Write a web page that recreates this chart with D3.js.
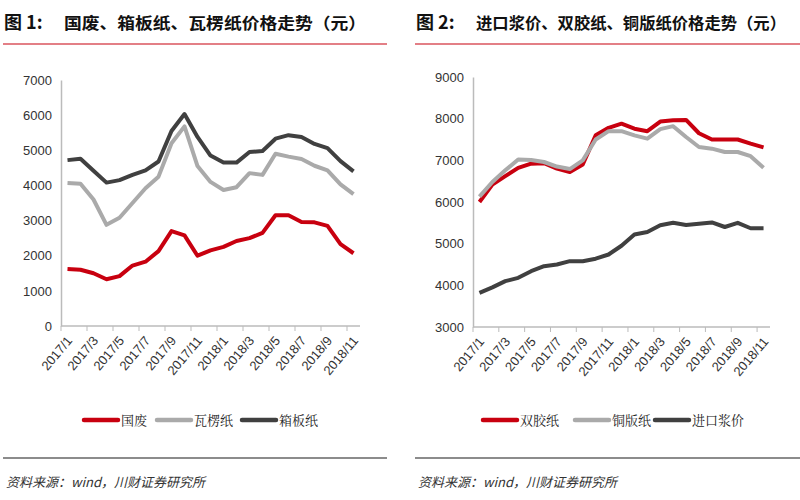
<!DOCTYPE html>
<html><head><meta charset="utf-8">
<script src="https://cdn.jsdelivr.net/npm/d3@7"></script>
<style>body{margin:0;background:#fff}svg{display:block}</style>
</head><body><svg id="c" width="800" height="500"></svg>
<script>
const months=["2017/1","2017/2","2017/3","2017/4","2017/5","2017/6","2017/7","2017/8","2017/9","2017/10","2017/11","2017/12","2018/1","2018/2","2018/3","2018/4","2018/5","2018/6","2018/7","2018/8","2018/9","2018/10","2018/11"];
const tickLabels=["2017/1","2017/3","2017/5","2017/7","2017/9","2017/11","2018/1","2018/3","2018/5","2018/7","2018/9","2018/11"];
const guofei=[1620,1600,1500,1330,1420,1720,1830,2130,2700,2580,2000,2150,2250,2420,2500,2650,3150,3150,2960,2950,2850,2330,2070];
const walengzhi=[4070,4050,3600,2880,3080,3500,3920,4250,5200,5680,4550,4100,3870,3950,4350,4300,4900,4820,4750,4560,4430,4030,3750];
const xiangbanzhi=[4720,4760,4420,4080,4150,4300,4430,4680,5550,6030,5380,4850,4650,4650,4950,4980,5330,5430,5380,5180,5060,4690,4400];
const shuangjiao=[6000,6420,6620,6820,6920,6930,6800,6720,6900,7600,7780,7880,7760,7700,7930,7960,7970,7650,7500,7500,7500,7400,7310];
const tongban=[6130,6480,6760,7020,7010,6960,6850,6790,7000,7500,7700,7700,7600,7520,7750,7820,7560,7320,7280,7200,7200,7100,6820];
const jinkoujiang=[3820,3950,4100,4180,4340,4460,4500,4580,4580,4640,4740,4950,5220,5280,5440,5500,5450,5480,5510,5400,5500,5370,5370];
const yTicks1=[0,1000,2000,3000,4000,5000,6000,7000];
const yTicks2=[3000,4000,5000,6000,7000,8000,9000];
const RED="#c8000f",GREY="#aaaaaa",DARK="#404040";
const svg=d3.select("#c");
const cjk="'Noto Sans CJK SC',sans-serif";
const narrow="'Liberation Sans Narrow','Liberation Sans',sans-serif";

function panel(o){
  const g=svg.append("g");
  g.append("text").attr("x",o.tx).attr("y",29).attr("font-family",cjk).attr("font-weight","bold").attr("font-size",18).attr("fill","#111").text(o.fig);
  g.append("text").attr("x",o.tx+60).attr("y",29).attr("font-family",cjk).attr("font-weight","bold").attr("font-size",16.2).attr("fill","#111")
    .attr("textLength",o.tlen).attr("lengthAdjust","spacingAndGlyphs").attr("transform",`translate(0,0)`).text(o.title);
  g.append("line").attr("x1",o.lx1).attr("x2",o.lx2).attr("y1",44).attr("y2",44).attr("stroke",RED).attr("stroke-width",1.2);
  const x=d3.scaleBand().domain(months).range([o.x0,o.x1]);
  const y=d3.scaleLinear().domain(o.ydom).range([o.yb,o.yt]);
  const ya=g.append("g").attr("transform",`translate(${o.x0},0)`).call(d3.axisLeft(y).tickValues(o.yTicks).tickFormat(d3.format("d")).tickSize(0).tickPadding(9));
  ya.select(".domain").attr("stroke","#bbb").attr("stroke-width",1.5);
  ya.selectAll("text").attr("font-family",narrow).attr("font-size",13).attr("fill","#333");
  const xa=g.append("g").attr("transform",`translate(0,${o.yb})`);
  xa.append("line").attr("x1",o.x0).attr("x2",o.x1).attr("stroke","#bbb").attr("stroke-width",1.5);
  tickLabels.forEach(tk=>{
    const px=x(tk);
    xa.append("line").attr("x1",px).attr("x2",px).attr("y1",0).attr("y2",5).attr("stroke","#bbb");
    xa.append("text").attr("transform",`translate(${px+5},${9}) rotate(-50)`).attr("text-anchor","end").attr("dy","0.7em")
      .attr("font-family",narrow).attr("font-size",13).attr("fill","#333").text(tk);
  });
  const line=d3.line().x((d,i)=>x(months[i])+x.bandwidth()/2).y(d=>y(d));
  o.series.forEach(s=>{
    g.append("path").datum(s.data).attr("d",line).attr("fill","none").attr("stroke",s.c).attr("stroke-width",4).attr("stroke-linejoin","round");
  });
  o.legend.forEach(l=>{
    g.append("line").attr("x1",l.x).attr("x2",l.x+34).attr("y1",420).attr("y2",420).attr("stroke",l.c).attr("stroke-width",4.5).attr("stroke-linecap","round");
    g.append("text").attr("x",l.x+37).attr("y",425).attr("font-family","'Noto Serif CJK SC','Noto Sans CJK SC',serif").attr("font-size",13).attr("fill","#222").text(l.t);
  });
  g.append("line").attr("x1",o.sx1).attr("x2",o.sx2).attr("y1",458).attr("y2",458).attr("stroke","#666").attr("stroke-width",1.5);
  g.append("text").attr("x",o.sx1+3).attr("y",487).attr("font-family",cjk).attr("font-style","italic").attr("font-size",13).attr("fill","#333").text("资料来源：wind，川财证券研究所");
}
panel({fig:"图 1:",title:"国废、箱板纸、瓦楞纸价格走势（元）",tlen:302,tx:4,lx1:3,lx2:387,x0:61,x1:360,yb:326,yt:80,ydom:[0,7000],yTicks:yTicks1,
  series:[{data:guofei,c:RED},{data:walengzhi,c:GREY},{data:xiangbanzhi,c:DARK}],
  legend:[{x:84,c:RED,t:"国废"},{x:157,c:GREY,t:"瓦楞纸"},{x:242,c:DARK,t:"箱板纸"}],sx1:3,sx2:387});
panel({fig:"图 2:",title:"进口浆价、双胶纸、铜版纸价格走势（元）",tlen:310,tx:416,lx1:415,lx2:800,x0:473,x1:770,yb:327,yt:77,ydom:[3000,9000],yTicks:yTicks2,
  series:[{data:shuangjiao,c:RED},{data:tongban,c:GREY},{data:jinkoujiang,c:DARK}],
  legend:[{x:483,c:RED,t:"双胶纸"},{x:575,c:GREY,t:"铜版纸"},{x:655,c:DARK,t:"进口浆价"}],sx1:415,sx2:800});
</script></body></html>
